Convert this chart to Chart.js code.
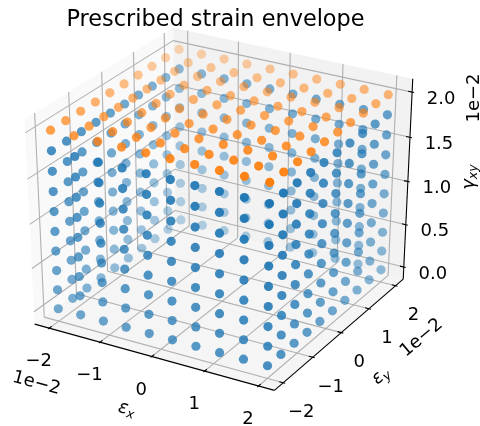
<!DOCTYPE html>
<html>
<head>
<meta charset="utf-8">
<style>
  html, body { margin: 0; padding: 0; background: #fff; }
  canvas { display: block; }
</style>
<script src="https://cdn.jsdelivr.net/npm/chart.js@4"></script>
</head>
<body>
<canvas id="strainChart" width="480" height="426"></canvas>
<script>
// strain levels
const strainX = [-0.02, -0.01556, -0.01111, -0.00667, -0.00222, 0.00222, 0.00667, 0.01111, 0.01556, 0.02];
const strainY = [-0.02, -0.01556, -0.01111, -0.00667, -0.00222, 0.00222, 0.00667, 0.01111, 0.01556, 0.02];
const gammaWall = [0, 0.00222, 0.00444, 0.00667, 0.00889, 0.01111, 0.01333, 0.01556, 0.01778];
const gammaTop = [0.02];

const xTicks = [-0.02, -0.01, 0, 0.01, 0.02];
const yTicks = [-0.02, -0.01, 0, 0.01, 0.02];
const zTicks = [0, 0.005, 0.01, 0.015, 0.02];
const xTickLabels = ["\u22122", "\u22121", "0", "1", "2"];
const yTickLabels = ["\u22122", "\u22121", "0", "1", "2"];
const zTickLabels = ["0.0", "0.5", "1.0", "1.5", "2.0"];

// axis limits, same as the 5% margin the picture shows
const xLim = [-0.022, 0.022];
const yLim = [-0.022, 0.022];
const zLim = [-0.001, 0.021];

// view: elev 30, azim -60, distance 10, looking at a unit cube
const elev = 30 * Math.PI / 180;
const azim = -60 * Math.PI / 180;
const dist = 10;
const viewN = [Math.cos(elev) * Math.cos(azim), Math.cos(elev) * Math.sin(azim), Math.sin(elev)];
const viewU = [-Math.sin(azim), Math.cos(azim), 0];
const viewV = [-Math.sin(elev) * Math.cos(azim), -Math.sin(elev) * Math.sin(azim), Math.cos(elev)];

const edge = 0.5 + 1 / 48;
const tickUnit = 1 / 12;

const dot = (a, b) => a[0] * b[0] + a[1] * b[1] + a[2] * b[2];

// cube coords (centred on 0) -> projected plane
const projectCube = (d) => {
  const depth = dist - dot(viewN, d);
  return { x: dot(viewU, d) / depth, y: dot(viewV, d) / depth, depth };
};
const nx = (v) => (v - xLim[0]) / (xLim[1] - xLim[0]) - 0.5;
const ny = (v) => (v - yLim[0]) / (yLim[1] - yLim[0]) - 0.5;
const nz = (v) => (v - zLim[0]) / (zLim[1] - zLim[0]) - 0.5;
const project = (x, y, z) => projectCube([nx(x), ny(y), nz(z)]);

const wallPoints = [];
gammaWall.forEach((g) => strainX.forEach((ex, i) => strainY.forEach((ey, j) => {
  if (i === 0 || j === 0 || i === strainX.length - 1 || j === strainY.length - 1) wallPoints.push(project(ex, ey, g));
})));
const topPoints = [];
gammaTop.forEach((g) => strainX.forEach((ex) => strainY.forEach((ey) => topPoints.push(project(ex, ey, g)))));

// depth shading like mplot3d: near is solid, far fades to 0.3
const shade = (points, rgb) => {
  const depths = points.map((p) => p.depth);
  const lo = Math.min(...depths);
  const hi = Math.max(...depths);
  points.sort((a, b) => b.depth - a.depth);
  return points.map((p) => `rgba(${rgb},${1 - ((p.depth - lo) / (hi - lo)) * 0.7})`);
};
const wallColors = shade(wallPoints, "31,119,180");
const topColors = shade(topPoints, "255,127,14");

const tickFont = '18px "DejaVu Sans"';

const drawPoly = (ctx, corners, fill) => {
  ctx.beginPath();
  corners.forEach((c, i) => (i ? ctx.lineTo(c[0], c[1]) : ctx.moveTo(c[0], c[1])));
  ctx.closePath();
  ctx.fillStyle = fill;
  ctx.fill();
};

const drawMath = (ctx, parts, x, y, angle) => {
  ctx.save();
  ctx.translate(x, y);
  ctx.rotate(angle);
  ctx.textBaseline = "alphabetic";
  ctx.textAlign = "left";
  ctx.fillStyle = "#000";
  let width = 0;
  parts.forEach((p) => {
    ctx.font = `italic ${p.size}px "DejaVu Sans"`;
    width += ctx.measureText(p.text).width;
  });
  let cursor = -width / 2;
  parts.forEach((p) => {
    ctx.font = `italic ${p.size}px "DejaVu Sans"`;
    ctx.fillText(p.text, cursor, 6 + p.drop);
    cursor += ctx.measureText(p.text).width;
  });
  ctx.restore();
};

const axes3d = {
  id: "axes3d",
  beforeDatasetsDraw(chart) {
    const ctx = chart.ctx;
    const sx = chart.scales.x;
    const sy = chart.scales.y;
    const px = (d) => {
      const p = projectCube(d);
      return [sx.getPixelForValue(p.x), sy.getPixelForValue(p.y)];
    };
    const line = (a, b, color) => {
      const p = px(a);
      const q = px(b);
      ctx.beginPath();
      ctx.moveTo(p[0], p[1]);
      ctx.lineTo(q[0], q[1]);
      ctx.strokeStyle = color;
      ctx.stroke();
    };
    const e = edge;
    ctx.save();
    // panes
    drawPoly(ctx, [[-e, -e, -e], [-e, e, -e], [-e, e, e], [-e, -e, e]].map(px), "#f9f9f9");
    drawPoly(ctx, [[-e, e, -e], [e, e, -e], [e, e, e], [-e, e, e]].map(px), "#f2f2f2");
    drawPoly(ctx, [[-e, -e, -e], [e, -e, -e], [e, e, -e], [-e, e, -e]].map(px), "#f5f5f5");
    // grid
    ctx.lineWidth = 1.1;
    xTicks.forEach((t) => {
      line([nx(t), -e, -e], [nx(t), e, -e], "#b0b0b0");
      line([nx(t), e, -e], [nx(t), e, e], "#b0b0b0");
    });
    yTicks.forEach((t) => {
      line([e, ny(t), -e], [-e, ny(t), -e], "#b0b0b0");
      line([-e, ny(t), -e], [-e, ny(t), e], "#b0b0b0");
    });
    zTicks.forEach((t) => {
      line([-e, -e, nz(t)], [-e, e, nz(t)], "#b0b0b0");
      line([-e, e, nz(t)], [e, e, nz(t)], "#b0b0b0");
    });
    // axis lines
    line([-e, -e, -e], [e, -e, -e], "#000");
    line([e, -e, -e], [e, e, -e], "#000");
    line([e, e, -e], [e, e, e], "#000");
    // ticks and their labels
    const ins = 0.2 * tickUnit;
    const outs = 0.1 * tickUnit;
    ctx.font = tickFont;
    ctx.textAlign = "center";
    ctx.textBaseline = "middle";
    ctx.fillStyle = "#000";
    xTicks.forEach((t, i) => {
      line([nx(t), -e + ins, -e], [nx(t), -e - outs, -e], "#000");
      const p = px([nx(t), -e, -e]);
      ctx.fillText(xTickLabels[i], p[0] - 10.5, p[1] + 33.5);
    });
    yTicks.forEach((t, i) => {
      line([e - ins, ny(t), -e], [e + outs, ny(t), -e], "#000");
      const p = px([e, ny(t), -e]);
      ctx.fillText(yTickLabels[i], p[0] + 18, p[1] + 30);
    });
    zTicks.forEach((t, i) => {
      line([e - ins, e, nz(t)], [e + outs, e, nz(t)], "#000");
      const p = px([e, e, nz(t)]);
      ctx.fillText(zTickLabels[i], p[0] + 29, p[1] + 7);
    });
    // offset text, rotated with the axes
    const rotated = (text, x, y, angle) => {
      ctx.save();
      ctx.translate(x, y);
      ctx.rotate(angle);
      ctx.fillText(text, 0, 2.5);
      ctx.restore();
    };
    rotated("1e\u22122", 37, 381, 15 * Math.PI / 180);
    rotated("1e\u22122", 420, 336, -40 * Math.PI / 180);
    rotated("1e\u22122", 472, 98, -Math.PI / 2);
    // axis titles
    drawMath(ctx, [{ text: "\u03b5", size: 18, drop: 0 }, { text: "x", size: 12.6, drop: 3 }], 127, 408, 15 * Math.PI / 180);
    drawMath(ctx, [{ text: "\u03b5", size: 18, drop: 0 }, { text: "y", size: 12.6, drop: 3 }], 380, 375, -40 * Math.PI / 180);
    drawMath(ctx, [{ text: "\u03b3", size: 18, drop: 0 }, { text: "xy", size: 12.6, drop: 3 }], 468, 177, -Math.PI / 2);
    ctx.restore();
  }
};

const chart = new Chart(document.getElementById("strainChart"), {
  type: "scatter",
  data: {
    datasets: [
      { label: "top", data: topPoints, pointBackgroundColor: topColors, pointBorderWidth: 0, pointRadius: 4.6, clip: false, order: 0 },
      { label: "walls", data: wallPoints, pointBackgroundColor: wallColors, pointBorderWidth: 0, pointRadius: 4.6, clip: false, order: 1 }
    ]
  },
  options: {
    responsive: false,
    animation: false,
    layout: { autoPadding: false, padding: { right: 49 } },
    plugins: {
      legend: { display: false },
      tooltip: { enabled: false },
      title: {
        display: true,
        text: "Prescribed strain envelope",
        color: "#000",
        font: { family: '"DejaVu Sans"', size: 22.4, weight: "normal" },
        padding: { top: 7, bottom: 3 }
      }
    },
    scales: {
      x: { type: "linear", display: false, min: -0.08352, max: 0.0787 },
      // title block is about 36.9px high, so the top of the scale starts below it
      y: { type: "linear", display: false, min: -0.09951, max: 0.07381 }
    }
  },
  plugins: [axes3d]
});
</script>
</body>
</html>
